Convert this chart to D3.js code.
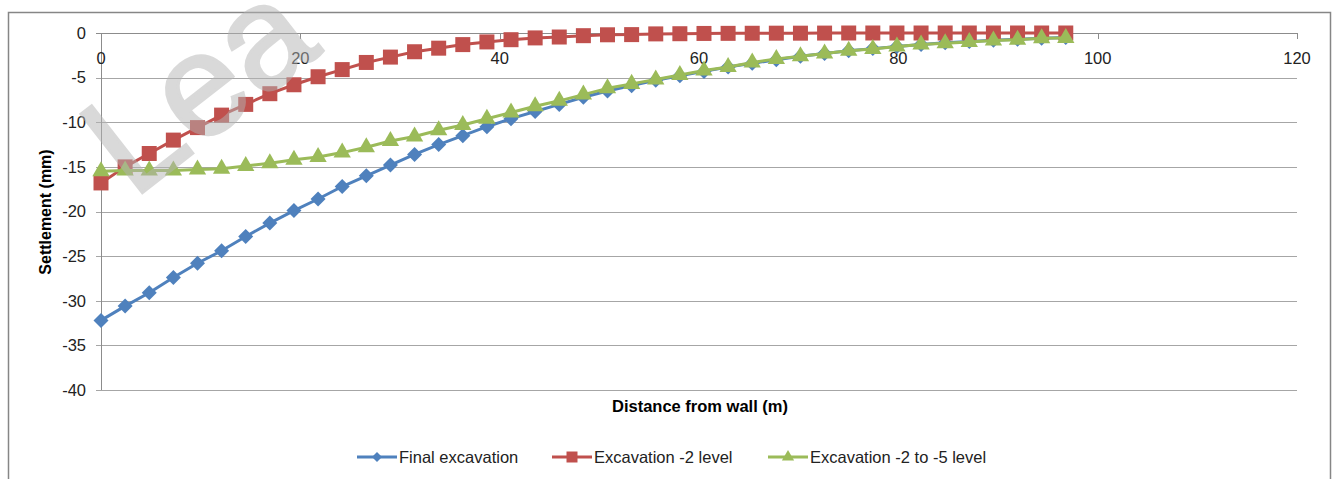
<!DOCTYPE html>
<html>
<head>
<meta charset="utf-8">
<script src="https://cdn.jsdelivr.net/npm/d3@7"></script>
<style>
  body { margin: 0; background: #fff; }
  svg text { font-family: "Liberation Sans", Arial, sans-serif; }
</style>
</head>
<body>
<div id="chart"></div>
<script>
// distance from wall (m)
var distance = [0, 2.42, 4.84, 7.26, 9.68, 12.1, 14.52, 16.94, 19.36, 21.78,
  24.2, 26.62, 29.04, 31.46, 33.88, 36.3, 38.72, 41.14, 43.56, 45.98,
  48.4, 50.82, 53.24, 55.66, 58.08, 60.5, 62.92, 65.34, 67.76, 70.18,
  72.6, 75.02, 77.44, 79.86, 82.28, 84.7, 87.12, 89.54, 91.96, 94.38, 96.8];

// settlement (mm)
var finalExcavation = [-32.2, -30.6, -29.1, -27.4, -25.8, -24.4, -22.8, -21.3, -19.9, -18.6,
  -17.2, -16.0, -14.8, -13.6, -12.5, -11.5, -10.5, -9.6, -8.8, -8.0,
  -7.2, -6.5, -5.9, -5.3, -4.8, -4.3, -3.8, -3.4, -3.0, -2.6,
  -2.3, -2.0, -1.75, -1.5, -1.3, -1.1, -0.95, -0.8, -0.7, -0.6, -0.5];

var excavation2 = [-16.8, -15.0, -13.5, -12.0, -10.6, -9.2, -8.0, -6.8, -5.8, -4.9,
  -4.1, -3.3, -2.7, -2.1, -1.7, -1.3, -1.0, -0.75, -0.55, -0.45,
  -0.3, -0.2, -0.18, -0.1, -0.08, -0.05, -0.04, -0.03, -0.02, -0.02,
  -0.01, 0, 0, 0, 0, 0, 0, 0, 0, 0, 0];

var excavation2to5 = [-15.5, -15.4, -15.4, -15.4, -15.3, -15.2, -14.9, -14.6, -14.2, -13.9,
  -13.4, -12.8, -12.1, -11.6, -10.9, -10.3, -9.6, -8.9, -8.2, -7.6,
  -6.9, -6.2, -5.7, -5.2, -4.7, -4.2, -3.8, -3.3, -2.9, -2.6,
  -2.3, -2.0, -1.8, -1.5, -1.3, -1.15, -1.0, -0.85, -0.75, -0.6, -0.55];

var seriesNames = ["Final excavation", "Excavation -2 level", "Excavation -2 to -5 level"];
var xTicks = [0, 20, 40, 60, 80, 100, 120];
var yTicks = [0, -5, -10, -15, -20, -25, -30, -35, -40];

var W = 1338, H = 479;
var colors = ["#4F81BD", "#C0504D", "#9BBB59"];
var markers = ["diamond", "square", "triangle"];
var series = [finalExcavation, excavation2, excavation2to5].map(function(vals, i){
  return { name: seriesNames[i], color: colors[i], marker: markers[i],
    points: vals.map(function(v, j){ return { x: distance[j], y: v }; }) };
});

var svg = d3.select("#chart").append("svg")
  .attr("width", W).attr("height", H);

//chart border
svg.append("rect")
  .attr("x", 8.5).attr("y", 12.5)
  .attr("width", 1322).attr("height", 490)
  .attr("fill", "#fff").attr("stroke", "#868686").attr("stroke-width", 1.5);

var x = d3.scaleLinear().domain([0, 120]).range([101, 1297]);
var y = d3.scaleLinear().domain([-40, 0]).range([390, 33]);

//horizontal gridlines + y ticks
var grid = svg.append("g");
yTicks.forEach(function(t){
  grid.append("line")
    .attr("x1", x(0) - 5).attr("x2", x(120))
    .attr("y1", Math.round(y(t)) + 0.5).attr("y2", Math.round(y(t)) + 0.5)
    .attr("stroke", t === 0 ? "#8c8c8c" : "#a6a6a6").attr("stroke-width", 1);
  grid.append("text")
    .attr("x", 86).attr("y", y(t))
    .attr("dy", "0.35em")
    .attr("text-anchor", "end")
    .attr("font-size", 16.5).attr("fill", "#222")
    .text(t);
});

//y axis line
svg.append("line")
  .attr("x1", x(0) + 0.5).attr("x2", x(0) + 0.5)
  .attr("y1", y(0)).attr("y2", y(-40))
  .attr("stroke", "#8c8c8c");

//x axis ticks (axis sits at y = 0)
xTicks.forEach(function(t){
  svg.append("line")
    .attr("x1", Math.round(x(t)) + 0.5).attr("x2", Math.round(x(t)) + 0.5)
    .attr("y1", y(0)).attr("y2", y(0) + 6)
    .attr("stroke", "#8c8c8c");
  svg.append("text")
    .attr("x", x(t)).attr("y", 58)
    .attr("dy", "0.35em")
    .attr("text-anchor", "middle")
    .attr("font-size", 16.5).attr("fill", "#222")
    .text(t);
});

//axis titles
svg.append("text")
  .attr("x", 700).attr("y", 406).attr("dy", "0.35em")
  .attr("text-anchor", "middle")
  .attr("font-size", 16.5).attr("font-weight", "bold")
  .text("Distance from wall (m)");

svg.append("text")
  .attr("transform", "translate(45,212) rotate(-90)")
  .attr("dy", "0.35em")
  .attr("text-anchor", "middle")
  .attr("font-size", 16).attr("font-weight", "bold")
  .text("Settlement (mm)");

//marker shapes
function markerPath(type, size){
  if(type === "diamond") return d3.symbol(d3.symbolSquare, size * size / 2)();
  if(type === "square") return d3.symbol(d3.symbolSquare, size * size)();
  return d3.symbol(d3.symbolTriangle, size * size * 0.45)();
}
function markerRot(type){ return type === "diamond" ? " rotate(45)" : ""; }

var line = d3.line()
  .x(function(d){ return x(d.x); })
  .y(function(d){ return y(d.y); });

series.forEach(function(s){
  var g = svg.append("g");
  g.append("path")
    .datum(s.points)
    .attr("d", line)
    .attr("fill", "none")
    .attr("stroke", s.color)
    .attr("stroke-width", 3)
    .attr("stroke-linejoin", "round");
  var size = s.marker === "diamond" ? 15 : (s.marker === "square" ? 15 : 17);
  g.selectAll("path.m")
    .data(s.points)
    .enter().append("path")
      .attr("class", "m")
      .attr("d", markerPath(s.marker, size))
      .attr("transform", function(d){
        return "translate(" + x(d.x) + "," + y(d.y) + ")" + markerRot(s.marker);
      })
      .attr("fill", s.color);
});

//legend
var legendX = [357, 552, 768];
series.forEach(function(s, i){
  var lg = svg.append("g").attr("transform", "translate(" + legendX[i] + ",457)");
  lg.append("line")
    .attr("x1", 0).attr("x2", 40)
    .attr("stroke", s.color).attr("stroke-width", 3);
  var size = s.marker === "diamond" ? 10 : (s.marker === "square" ? 11 : 12);
  lg.append("path")
    .attr("d", markerPath(s.marker, size))
    .attr("transform", "translate(20,0)" + markerRot(s.marker))
    .attr("fill", s.color);
  lg.append("text")
    .attr("x", 42).attr("dy", "0.35em")
    .attr("font-size", 16.5).attr("fill", "#222")
    .text(s.name);
});

//watermark
svg.append("text")
  .attr("transform", "translate(133,200) rotate(-38)")
  .attr("font-size", 145)
  .attr("fill", "#b4b4b4").attr("stroke", "#b4b4b4").attr("stroke-width", 3)
  .attr("opacity", 0.5)
  .text("Lea");
</script>
</body>
</html>
